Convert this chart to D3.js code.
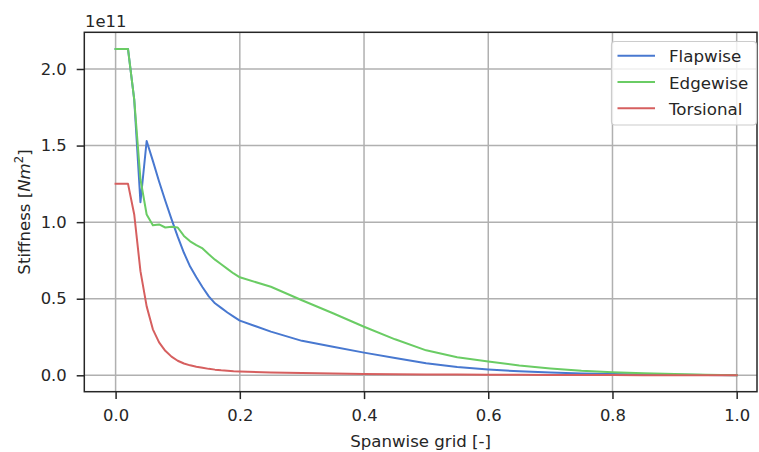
<!DOCTYPE html>
<html>
<head>
<meta charset="utf-8">
<script src="https://cdn.jsdelivr.net/npm/d3@7"></script>
<style>
  body { margin: 0; background: #fff; }
  text { font-family: "DejaVu Sans", sans-serif; fill: #262626; }
</style>
</head>
<body>
<svg id="chart" width="759" height="452"></svg>
<script>
// ---- data (values in units of 1e11 N m^2) ----
const spanGrid = [0, 0.01, 0.02, 0.03, 0.04, 0.05, 0.06, 0.07, 0.08, 0.09, 0.10,
  0.11, 0.12, 0.13, 0.14, 0.15, 0.16, 0.17, 0.18, 0.19, 0.20,
  0.25, 0.30, 0.35, 0.40, 0.45, 0.50, 0.55, 0.60, 0.65, 0.70, 0.75, 0.80, 0.85, 0.90, 0.95, 1.00];
const flapwise = [2.13, 2.13, 2.13, 1.80, 1.13, 1.53, 1.40, 1.265, 1.14, 1.02, 0.905,
  0.80, 0.71, 0.64, 0.575, 0.515, 0.47, 0.44, 0.41, 0.383, 0.357,
  0.285, 0.225, 0.186, 0.148, 0.113, 0.078, 0.054, 0.038, 0.026, 0.018, 0.012, 0.008, 0.005, 0.003, 0.0012, 0];
const edgewise = [2.13, 2.13, 2.13, 1.80, 1.28, 1.05, 0.98, 0.985, 0.965, 0.97, 0.965,
  0.91, 0.875, 0.85, 0.828, 0.79, 0.755, 0.725, 0.695, 0.665, 0.64,
  0.578, 0.49, 0.405, 0.317, 0.235, 0.163, 0.118, 0.09, 0.064, 0.045, 0.030, 0.020, 0.013, 0.008, 0.004, 0];
const torsional = [1.25, 1.25, 1.25, 1.05, 0.68, 0.45, 0.30, 0.215, 0.16, 0.122, 0.095,
  0.077, 0.065, 0.056, 0.049, 0.042, 0.037, 0.033, 0.030, 0.027, 0.025,
  0.019, 0.015, 0.011, 0.0085, 0.007, 0.006, 0.005, 0.004, 0.003, 0.0025, 0.002, 0.0015, 0.001, 0.0007, 0.0003, 0];
const seriesNames = ["Flapwise", "Edgewise", "Torsional"];
const seriesColors = ["#4878d0", "#6acc64", "#d65f5f"];
const xTicks = [0, 0.2, 0.4, 0.6, 0.8, 1.0];
const yTicks = [0, 0.5, 1.0, 1.5, 2.0];

const svg = d3.select("#chart");
const L = 84.3, R = 757, T = 32.3, B = 391.7;
const x = d3.scaleLinear().domain([-0.0504, 1.0327]).range([L, R]);
const y = d3.scaleLinear().domain([-0.1071, 2.2396]).range([B, T]);

// grid
const g = svg.append("g");
g.selectAll(".gx").data(xTicks).join("line")
  .attr("x1", d => x(d)).attr("x2", d => x(d)).attr("y1", T).attr("y2", B)
  .attr("stroke", "#b0b0b0").attr("stroke-width", 1.5);
g.selectAll(".gy").data(yTicks).join("line")
  .attr("y1", d => y(d)).attr("y2", d => y(d)).attr("x1", L).attr("x2", R)
  .attr("stroke", "#b0b0b0").attr("stroke-width", 1.5);

// clip
svg.append("clipPath").attr("id", "clip").append("rect")
  .attr("x", L).attr("y", T).attr("width", R - L).attr("height", B - T);

const line = d3.line().x((d, i) => x(spanGrid[i])).y(d => y(d));
const allSeries = [flapwise, edgewise, torsional];
svg.append("g").attr("clip-path", "url(#clip)")
  .selectAll("path").data(allSeries).join("path")
  .attr("d", d => line(d)).attr("fill", "none")
  .attr("stroke", (d, i) => seriesColors[i]).attr("stroke-width", 2)
  .attr("stroke-linejoin", "round").attr("stroke-linecap", "square");

// axes
const xAxis = d3.axisBottom(x).tickValues(xTicks).tickFormat(d3.format(".1f")).tickSize(7.4).tickPadding(10);
const yAxis = d3.axisLeft(y).tickValues(yTicks).tickFormat(d3.format(".1f")).tickSize(7.6).tickPadding(10);
const gx = svg.append("g").attr("transform", `translate(0,${B})`).call(xAxis);
const gy = svg.append("g").attr("transform", `translate(${L},0)`).call(yAxis);
[gx, gy].forEach(a => {
  a.select(".domain").remove();
  a.selectAll(".tick line").attr("stroke", "#262626").attr("stroke-width", 1.5);
  a.selectAll(".tick text").attr("font-size", "16.4px").attr("font-family", "DejaVu Sans").attr("fill", "#262626");
});

// frame
svg.append("rect").attr("x", L).attr("y", T).attr("width", R - L).attr("height", B - T)
  .attr("fill", "none").attr("stroke", "#262626").attr("stroke-width", 1.5);

// offset text
svg.append("text").attr("x", 85).attr("y", 26.7).attr("font-size", "16.4px").text("1e11");

// axis labels
svg.append("text").attr("x", (L + R) / 2).attr("y", 447).attr("text-anchor", "middle")
  .attr("font-size", "16.6px").text("Spanwise grid [-]");
const yl = svg.append("text").attr("transform", `translate(30,${(T + B) / 2}) rotate(-90)`)
  .attr("text-anchor", "middle").attr("font-size", "16.6px");
yl.append("tspan").text("Stiffness [");
yl.append("tspan").attr("font-style", "italic").text("Nm");
yl.append("tspan").attr("font-size", "11.6px").attr("dy", -7).text("2");
yl.append("tspan").attr("dy", 7).text("]");

// legend
const lg = svg.append("g");
lg.append("rect").attr("x", 611.5).attr("y", 41.5).attr("width", 145).attr("height", 83.5)
  .attr("rx", 3.5).attr("fill", "#fff").attr("fill-opacity", 0.8)
  .attr("stroke", "#cccccc").attr("stroke-width", 1.2);
seriesNames.forEach((n, i) => {
  const yy = 55.7 + i * 26.3;
  lg.append("line").attr("x1", 617.5).attr("x2", 655).attr("y1", yy).attr("y2", yy)
    .attr("stroke", seriesColors[i]).attr("stroke-width", 2);
  lg.append("text").attr("x", 669).attr("y", yy + 6.6).attr("font-size", "16.7px").text(n);
});
</script>
</body>
</html>
